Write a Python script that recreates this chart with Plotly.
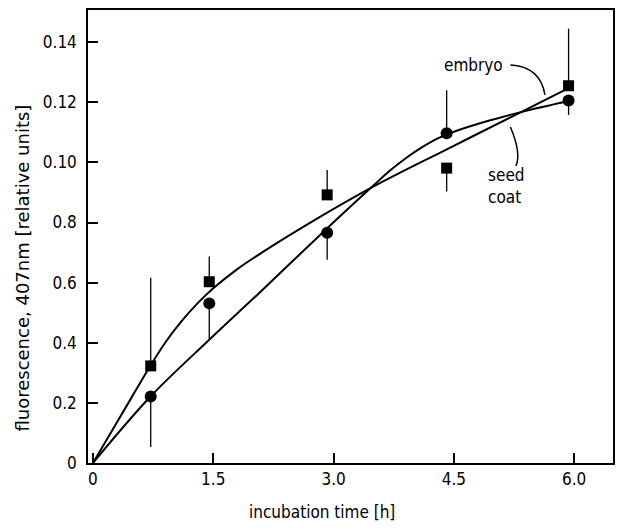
import plotly.graph_objects as go

# ---- data ----
time_pts = [0.72, 1.45, 2.92, 4.41, 5.93]

embryo_vals = [0.0323, 0.0603, 0.0892, 0.0981, 0.1255]        # squares
embryo_err_plus = [0.0293, 0.0084, 0.0083, 0.0, 0.0190]
embryo_err_minus = [0.0, 0.0, 0.0, 0.0078, 0.0]

seed_vals = [0.0221, 0.0531, 0.0766, 0.1097, 0.1206]          # circles
seed_err_plus = [0.0, 0.0, 0.0, 0.0143, 0.0]
seed_err_minus = [0.0168, 0.0122, 0.0090, 0.0, 0.0048]

embryo_curve_x = [0, 0.36, 0.72, 0.9, 1.1, 1.3, 1.5, 1.8, 2.1, 2.7, 3.5, 4.4, 5.35, 5.93]
embryo_curve_y = [0, 0.0163, 0.0325, 0.0400, 0.0470, 0.0530, 0.0581, 0.0645, 0.0699,
                  0.0798, 0.0920, 0.1042, 0.1169, 0.1247]

seed_curve_x = [0, 0.72, 1.45, 2.07, 2.94, 3.5, 3.7, 3.9, 4.1, 4.3, 4.5, 4.9, 5.35, 5.93]
seed_curve_y = [0, 0.0222, 0.0410, 0.0565, 0.0786, 0.0924, 0.0972, 0.1014, 0.1050,
                0.1080, 0.1102, 0.1136, 0.1168, 0.1204]

x_ticks = [0, 1.5, 3.0, 4.5, 6.0]
x_ticktext = ["0", "1.5", "3.0", "4.5", "6.0"]
y_ticks = [0, 0.02, 0.04, 0.06, 0.08, 0.10, 0.12, 0.14]
y_ticktext = ["0", "0.2", "0.4", "0.6", "0.8", "0.10", "0.12", "0.14"]

FONT = "DejaVu Sans Condensed, Liberation Sans Narrow, DejaVu Sans, sans-serif"
FONT_WIDE = "DejaVu Sans, sans-serif"

fig = go.Figure()

fig.add_trace(go.Scatter(x=embryo_curve_x, y=embryo_curve_y, mode="lines",
                         line=dict(color="black", width=2, shape="spline", smoothing=1.0),
                         hoverinfo="skip", showlegend=False))
fig.add_trace(go.Scatter(x=seed_curve_x, y=seed_curve_y, mode="lines",
                         line=dict(color="black", width=2, shape="spline", smoothing=1.0),
                         hoverinfo="skip", showlegend=False))

fig.add_trace(go.Scatter(x=time_pts, y=embryo_vals, mode="markers",
                         marker=dict(symbol="square", size=11, color="black"),
                         error_y=dict(type="data", symmetric=False, array=embryo_err_plus,
                                      arrayminus=embryo_err_minus, color="black",
                                      thickness=1.3, width=0),
                         name="embryo", showlegend=False))
fig.add_trace(go.Scatter(x=time_pts, y=seed_vals, mode="markers",
                         marker=dict(symbol="circle", size=12, color="black"),
                         error_y=dict(type="data", symmetric=False, array=seed_err_plus,
                                      arrayminus=seed_err_minus, color="black",
                                      thickness=1.3, width=0),
                         name="seed coat", showlegend=False))

# leader lines for labels
fig.add_shape(type="path", xref="x", yref="y",
              path="M 5.205,0.1324 Q 5.574,0.1319 5.636,0.1225",
              line=dict(color="black", width=1.5))
fig.add_shape(type="path", xref="x", yref="y",
              path="M 5.205,0.1118 Q 5.344,0.1030 5.273,0.0988",
              line=dict(color="black", width=1.5))

fig.add_annotation(x=4.745, y=0.1324, xref="x", yref="y", text="embryo",
                   showarrow=False, xanchor="center", yanchor="middle",
                   font=dict(family=FONT, size=17, color="black"))
fig.add_annotation(x=5.16, y=0.0922, xref="x", yref="y", text="seed<br>coat",
                   showarrow=False, align="left", xanchor="center", yanchor="middle",
                   font=dict(family=FONT, size=17, color="black"))

# axis titles
fig.add_annotation(x=0.446, y=-0.108, xref="paper", yref="paper",
                   text="incubation time [h]", showarrow=False,
                   xanchor="center", yanchor="middle",
                   font=dict(family=FONT, size=17, color="black"))
fig.add_annotation(x=-0.125, y=0.43, xref="paper", yref="paper",
                   text="fluorescence, 407nm [relative units]", showarrow=False,
                   textangle=-90, xanchor="center", yanchor="middle",
                   font=dict(family=FONT_WIDE, size=18, color="black"))

fig.update_xaxes(range=[-0.062, 6.484], tickvals=x_ticks, ticktext=x_ticktext,
                 ticks="inside", ticklen=10, tickwidth=1.5, tickcolor="black",
                 showline=True, linecolor="black", linewidth=1.5, mirror=True,
                 showgrid=False, zeroline=False,
                 tickfont=dict(family=FONT, size=17, color="black"))
fig.update_yaxes(range=[0, 0.1507], tickvals=y_ticks, ticktext=y_ticktext,
                 ticks="inside", ticklen=10, tickwidth=1.5, tickcolor="black",
                 showline=True, linecolor="black", linewidth=1.5, mirror=True,
                 showgrid=False, zeroline=False, ticklabelstandoff=6,
                 tickfont=dict(family=FONT, size=17, color="black"))

fig.update_layout(width=617, height=528, margin=dict(l=88, r=2, t=10, b=65),
                  plot_bgcolor="white", paper_bgcolor="white")

fig.write_html("out.html")
